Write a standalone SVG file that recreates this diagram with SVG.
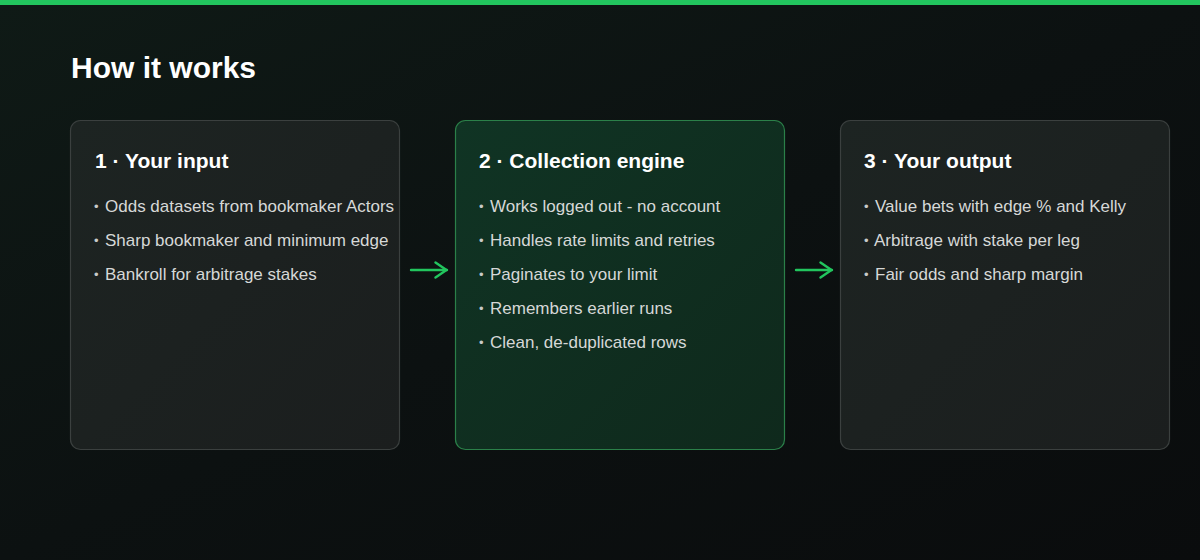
<svg xmlns="http://www.w3.org/2000/svg" width="1200" height="560" viewBox="0 0 1200 560">
<defs>
<linearGradient id="bg" x1="0" y1="0" x2="1" y2="1">
<stop offset="0" stop-color="#0f1a16"/>
<stop offset="0.5" stop-color="#0c1111"/>
<stop offset="1" stop-color="#0a0c0d"/>
</linearGradient>
<linearGradient id="gcard" x1="0" y1="0" x2="1" y2="1">
<stop offset="0" stop-color="#1d2422"/>
<stop offset="1" stop-color="#1b1e1e"/>
</linearGradient>
<linearGradient id="ggreen" x1="0" y1="0" x2="1" y2="1">
<stop offset="0" stop-color="#103424"/>
<stop offset="1" stop-color="#0f291c"/>
</linearGradient>
<marker id="ah" viewBox="0 0 14 18" refX="13" refY="9" markerWidth="14" markerHeight="18" markerUnits="userSpaceOnUse" orient="auto">
<path d="M1.5 1.5 L12.5 9 L1.5 16.5" fill="none" stroke="#22c55e" stroke-width="2.4" stroke-linecap="round" stroke-linejoin="round"/>
</marker>
</defs>
<style>
text{font-family:"Liberation Sans",Arial,sans-serif}
.title{font-size:30px;font-weight:bold;fill:#ffffff}
.h{font-size:21px;font-weight:bold;fill:#ffffff}
.b{font-size:17px;fill:#d6d8d7}
.d{font-size:13px;fill:#c8cac9}
.card{fill:url(#gcard);stroke:#3b403f;stroke-width:1.2}
.cardg{fill:url(#ggreen);stroke:#2b8049;stroke-width:1.2}
.conn{stroke:#22c55e;stroke-width:2.4;fill:none;stroke-linecap:round}
</style>
<rect width="1200" height="560" fill="url(#bg)"/>
<rect width="1200" height="5" fill="#22c55e"/>
<text class="title" x="71" y="78">How it works</text>
<g id="node1">
<rect class="card" x="70.5" y="120.5" width="329" height="329" rx="10"/>
<text class="h" x="95" y="168">1 · Your input</text>
<text class="d" x="94" y="211">•</text><text class="b" x="105" y="212">Odds datasets from bookmaker Actors</text>
<text class="d" x="94" y="245">•</text><text class="b" x="105" y="246">Sharp bookmaker and minimum edge</text>
<text class="d" x="94" y="279">•</text><text class="b" x="105" y="280">Bankroll for arbitrage stakes</text>
</g>
<g id="node2">
<rect class="cardg" x="455.5" y="120.5" width="329" height="329" rx="10"/>
<text class="h" x="479" y="168">2 · Collection engine</text>
<text class="d" x="479" y="211">•</text><text class="b" x="490" y="212">Works logged out - no account</text>
<text class="d" x="479" y="245">•</text><text class="b" x="490" y="246">Handles rate limits and retries</text>
<text class="d" x="479" y="279">•</text><text class="b" x="490" y="280">Paginates to your limit</text>
<text class="d" x="479" y="313">•</text><text class="b" x="490" y="314">Remembers earlier runs</text>
<text class="d" x="479" y="347">•</text><text class="b" x="490" y="348">Clean, de-duplicated rows</text>
</g>
<g id="node3">
<rect class="card" x="840.5" y="120.5" width="329" height="329" rx="10"/>
<text class="h" x="864" y="168">3 · Your output</text>
<text class="d" x="864" y="211">•</text><text class="b" x="875" y="212">Value bets with edge % and Kelly</text>
<text class="d" x="864" y="245">•</text><text class="b" x="874" y="246">Arbitrage with stake per leg</text>
<text class="d" x="864" y="279">•</text><text class="b" x="875" y="280">Fair odds and sharp margin</text>
</g>
<g id="connectors">
<line class="conn" x1="411" y1="270" x2="447" y2="270" marker-end="url(#ah)"/>
<line class="conn" x1="796" y1="270" x2="832" y2="270" marker-end="url(#ah)"/>
</g>
</svg>
